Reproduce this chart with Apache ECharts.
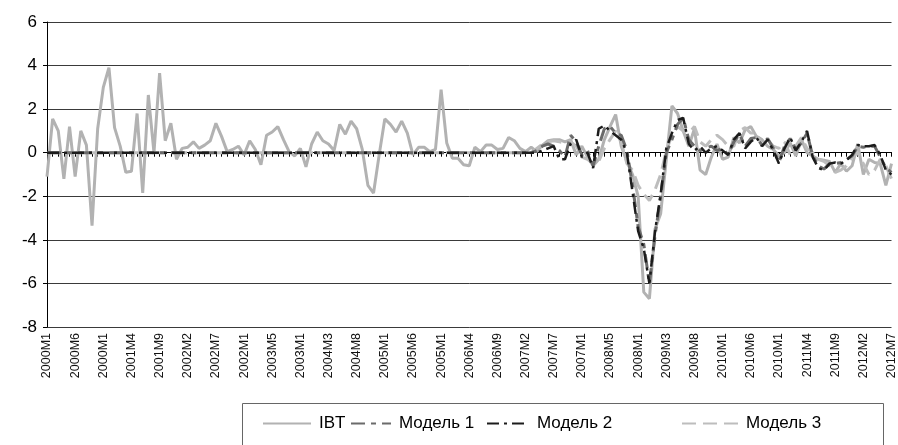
<!DOCTYPE html>
<html><head><meta charset="utf-8">
<script src="https://cdn.jsdelivr.net/npm/echarts@6/dist/echarts.min.js"></script>
<style>html,body{margin:0;padding:0;background:#fff}#c{width:898px;height:445px}</style>
</head><body><div id="c"></div>
<script>
// Categories: monthly 2000M1 .. 2012M7
const years = [2000,2001,2002,2003,2004,2005,2006,2007,2008,2009,2010,2011,2012];
const categories = [];
years.forEach(y => { for (let m = 1; m <= 12; m++) { if (y === 2012 && m > 7) break; categories.push(y + 'M' + m); } });

// Tick labels as printed (every 5th month, two-digit months truncated in the original)
const tickLabels = ["2000M1","2000M6","2000M1","2001M4","2001M9","2002M2","2002M7","2002M1","2003M5","2003M1",
  "2004M3","2004M8","2005M1","2005M6","2005M1","2006M4","2006M9","2007M2","2007M7","2007M1",
  "2008M5","2008M1","2009M3","2009M8","2010M1","2010M6","2010M1","2011M4","2011M9","2012M2","2012M7"];

const ibt = [
 -1.1, 1.55, 1.0, -1.2, 1.2, -1.1, 1.0, 0.35, -3.35, 1.1,
 3.0, 3.9, 1.15, 0.3, -0.9, -0.85, 1.8, -1.85, 2.65, 0.0,
 3.65, 0.55, 1.35, -0.3, 0.2, 0.25, 0.5, 0.2, 0.35, 0.55,
 1.35, 0.75, 0.05, 0.15, 0.3, -0.1, 0.55, 0.15, -0.55, 0.8,
 0.95, 1.2, 0.6, 0.05, -0.15, 0.2, -0.65, 0.4, 0.95, 0.55,
 0.4, 0.1, 1.3, 0.85, 1.45, 1.1, 0.15, -1.5, -1.85, -0.1,
 1.55, 1.3, 0.95, 1.45, 0.9, -0.1, 0.25, 0.25, 0.05, 0.15,
 2.9, 0.45, -0.25, -0.25, -0.55, -0.6, 0.25, 0.05, 0.35, 0.35,
 0.15, 0.2, 0.7, 0.55, 0.2, 0.05, 0.25, 0.05, 0.35, 0.55,
 0.6, 0.6, 0.5, 0.6, -0.1, 0.3, -0.2, -0.6, -0.3, 0.6,
 1.2, 1.75, 0.3, -0.4, -1.0, -2.0, -6.4, -6.7, -3.5, -2.8,
 -0.3, 2.15, 1.8, 1.0, 0.3, 1.1, -0.8, -1.0, -0.2, 0.4,
 -0.3, -0.2, 0.7, 0.45, 1.05, 1.2, 0.75, 0.6, 0.3, 0.15,
 -0.15, 0.0, 0.45, -0.15, 0.6, 0.0, -0.15, -0.3, -0.35, -0.4,
 -0.9, -0.5, -0.85, -0.6, 0.4, -1.0, -0.3, -0.45, -0.5, -1.5,
 -0.5
];

const model1 = [
 0,0,0,0,0,0,0,0,0,0, 0,0,0,0,0,0,0,0,0,0,
 0,0,0,0,0,0,0,0,0,0, 0,0,0,0,0,0,0,0,0,0,
 0,0,0,0,0,0,0,0,0,0, 0,0,0,0,0,0,0,0,0,0,
 0,0,0,0,0,0,0,0,0,0, 0,0,0,0,0,0,0,0,0,0,
 0,0,0,0,0,0,0,
 0.1, 0.3, 0.4,
 0.3, 0.1, -0.2, 0.8, 0.5, -0.1, 0.1, -0.6, 0.3, 1.1,
 1.2, 0.9, 0.8, 0.1, -1.5, -3.4, -4.2, -6.0, -3.8, -2.0,
 0.0, 0.6, 1.3, 1.6, 0.6, 0.3, 0.1, 0.2, 0.3, 0.1,
 0.2, -0.1, 0.5, 0.85, 0.3, 0.65, 0.7, 0.35, 0.65, 0.2,
 -0.45, 0.3, 0.65, 0.15, 0.45, 0.9, -0.15, -0.6, -0.75, -0.5,
 -0.5, -0.45, -0.3, -0.15, 0.3, 0.25, 0.3, 0.3, -0.2, -0.7,
 -0.9
];

const model2 = [
 0,0,0,0,0,0,0,0,0,0, 0,0,0,0,0,0,0,0,0,0,
 0,0,0,0,0,0,0,0,0,0, 0,0,0,0,0,0,0,0,0,0,
 0,0,0,0,0,0,0,0,0,0, 0,0,0,0,0,0,0,0,0,0,
 0,0,0,0,0,0,0,0,0,0, 0,0,0,0,0,0,0,0,0,0,
 0,0,0,0,0,0,0,
 0.0, 0.1, 0.2,
 0.3, -0.3, -0.3, 0.4, 0.6, -0.2, 0.0, -0.7, 1.1, 1.25,
 1.0, 0.8, 0.6, 0.0, -1.8, -3.6, -4.4, -6.0, -3.6, -1.9,
 0.2, 0.9, 1.5, 1.6, 0.4, 0.1, 0.3, 0.0, 0.2, 0.3,
 0.1, -0.1, 0.6, 0.9, 0.2, 0.5, 0.7, 0.3, 0.6, 0.1,
 -0.5, 0.2, 0.7, 0.1, 0.5, 1.0, -0.2, -0.7, -0.8, -0.5,
 -0.45, -0.5, -0.35, -0.1, 0.35, 0.3, 0.3, 0.35, -0.1, -0.8,
 -1.0
];

const model3 = [
 0,0,0,0,0,0,0,0,0,0, 0,0,0,0,0,0,0,0,0,0,
 0,0,0,0,0,0,0,0,0,0, 0,0,0,0,0,0,0,0,0,0,
 0,0,0,0,0,0,0,0,0,0, 0,0,0,0,0,0,0,0,0,0,
 0,0,0,0,0,0,0,0,0,0, 0,0,0,0,0,0,0,0,0,0,
 0,0,0,0,0,0,0,
 0.2, 0.4, 0.5,
 0.55, 0.5, 0.45, 0.5, 0.3, -0.2, -0.3, -0.5, -0.4, 0.2,
 0.6, 1.0, 0.5, -0.5, -0.8, -1.5, -1.9, -2.2, -1.7, -1.0,
 0.1, 0.8, 1.2, 1.0, 0.9, 1.2, 0.5, 0.3, 0.6, 0.8,
 0.6, 0.3, 0.3, 1.0, 1.15, 0.9, 0.9, 0.3, 0.6, 0.3,
 0.2, 0.5, -0.1, 0.3, 0.7, 0.2, 0.0, -0.3, -0.4, -0.6,
 -0.9, -0.8, -0.6, -0.2, 0.0, -0.5, -1.0, -0.8, -0.3, -0.6,
 -1.2
];

const seriesNames = ['IBT', 'Модель 1', 'Модель 2', 'Модель 3'];
const yTicks = { min: -8, max: 6, step: 2 };

const chart = echarts.init(document.getElementById('c'), null, { renderer: 'canvas' });
const font = 'Liberation Sans, Arial, sans-serif';

const legendLeft = [262, 350, 486, 681];
const legendWidth = [48, 40, 42, 56];
const legends = seriesNames.map((n, i) => ({
  data: [n], left: legendLeft[i], top: 415, padding: 0,
  itemWidth: legendWidth[i], itemHeight: 14, itemGap: 0,
  selectedMode: false,
  itemStyle: { opacity: 0 },
  textStyle: { fontFamily: font, fontSize: 17, color: '#000', padding: [0, 0, 0, 3] }
}));

chart.setOption({
  animation: false,
  backgroundColor: '#ffffff',
  grid: { left: 47, right: 2, top: 22, bottom: 118, containLabel: false },
  legend: legends,
  graphic: [{
    type: 'rect', left: 240, top: 401, silent: true,
    shape: { width: 641, height: 60 },
    style: { fill: 'none', stroke: '#666', lineWidth: 1 }
  }],
  xAxis: [
    {
      type: 'category', data: categories, boundaryGap: false, position: 'bottom',
      axisLine: { show: false, onZero: false },
      axisTick: { show: false },
      splitLine: { show: false },
      axisLabel: {
        interval: 4, rotate: 90, margin: 6,
        fontFamily: font, fontSize: 12.5, color: '#111',
        formatter: (v, idx) => tickLabels[Math.round(idx / 5)] || ''
      }
    },
    {
      type: 'category', data: categories, boundaryGap: false, position: 'bottom',
      axisLine: { show: true, onZero: true, onZeroAxisIndex: 0, lineStyle: { color: '#000', width: 1 } },
      axisTick: { show: true, interval: 0, length: 4, lineStyle: { color: '#000', width: 1 } },
      axisLabel: { show: false },
      splitLine: { show: false }
    }
  ],
  yAxis: {
    type: 'value', min: yTicks.min, max: yTicks.max, interval: yTicks.step,
    axisLine: { show: true, lineStyle: { color: '#000', width: 1 } },
    axisTick: { show: true, length: 4, lineStyle: { color: '#000' } },
    axisLabel: { fontFamily: font, fontSize: 17, color: '#000', margin: 10 },
    splitLine: { show: true, lineStyle: { color: '#3a3a3a', width: 1 } }
  },
  series: [
    { name: seriesNames[0], type: 'line', data: ibt, symbol: 'none', z: 2,
      itemStyle: { color: '#b2b2b2' }, lineStyle: { color: '#b2b2b2', width: 3 } },
    { name: seriesNames[3], type: 'line', data: model3, symbol: 'none', z: 3,
      itemStyle: { color: '#bdbdbd' }, lineStyle: { color: '#bdbdbd', width: 3, type: [14, 7] } },
    { name: seriesNames[1], type: 'line', data: model1, symbol: 'none', z: 4,
      itemStyle: { color: '#6b6b6b' }, lineStyle: { color: '#6b6b6b', width: 3, type: [14, 6, 5, 6] } },
    { name: seriesNames[2], type: 'line', data: model2, symbol: 'none', z: 5,
      itemStyle: { color: '#1c1c1c' }, lineStyle: { color: '#1c1c1c', width: 2.5, type: [12, 5, 3, 5] } }
  ]
});
</script></body></html>
